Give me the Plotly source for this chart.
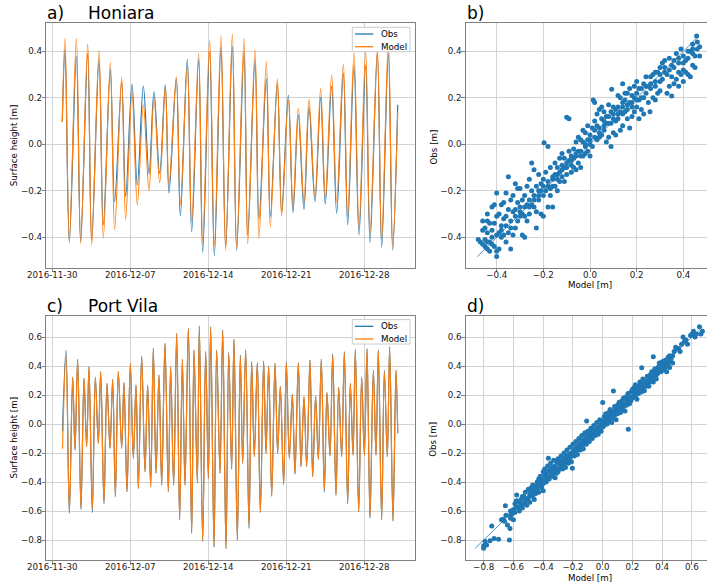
import pandas as pd
import plotly.graph_objects as go

# ---------------- tide series: turning points, hours after 2016-11-30 00:00 (m) ----------------
T0 = pd.Timestamp("2016-11-30 00:00")

honiara_hours = [21.5, 27.4, 36.7, 51.8, 61.1, 76.2, 84.8, 100.6, 109.9, 125.0, 134.3, 149.4,
                 158.0, 171.7, 183.1, 196.1, 208.3, 219.0, 231.3, 243.4, 251.3, 267.1, 275.8,
                 290.8, 300.2, 315.2, 323.9, 338.9, 349.0, 363.3, 373.4, 387.8, 397.1, 412.9,
                 420.8, 436.6, 445.2, 461.0, 469.6, 484.7, 494.0, 508.4, 518.4, 529.9, 542.1,
                 552.9, 565.8, 578.0, 588.0, 601.7, 612.5, 626.8, 636.2, 649.8, 660.6, 674.9,
                 684.3, 700.1, 709.4, 723.8, 733.1, 744.0]
honiara_obs = [0.10, 0.406, -0.42, 0.377, -0.42, 0.39, -0.41, 0.363, -0.347, 0.32, -0.247, 0.265,
               -0.225, 0.259, -0.175, 0.25, -0.128, 0.227, -0.125, 0.256, -0.21, 0.28, -0.308,
               0.365, -0.376, 0.363, -0.465, 0.399, -0.48, 0.418, -0.44, 0.42, -0.455, 0.399,
               -0.39, 0.36, -0.323, 0.28, -0.31, 0.26, -0.29, 0.212, -0.294, 0.126, -0.28,
               0.159, -0.247, 0.202, -0.257, 0.25, -0.297, 0.305, -0.347, 0.341, -0.39, 0.341,
               -0.423, 0.391, -0.443, 0.39, -0.455, 0.17]
honiara_model = [0.095, 0.456, -0.415, 0.456, -0.426, 0.431, -0.433, 0.403, -0.404, 0.353, -0.368, 0.288,
                 -0.323, 0.222, -0.261, 0.17, -0.199, 0.199, -0.165, 0.248, -0.175, 0.29, -0.261,
                 0.337, -0.333, 0.389, -0.419, 0.446, -0.44, 0.466, -0.455, 0.474, -0.445, 0.456,
                 -0.428, 0.406, -0.404, 0.356, -0.354, 0.28, -0.308, 0.19, -0.268, 0.155, -0.25,
                 0.193, -0.225, 0.24, -0.232, 0.298, -0.247, 0.344, -0.311, 0.392, -0.354, 0.399,
                 -0.383, 0.406, -0.412, 0.442, -0.44, 0.14]

portvila_hours = [22.0, 29.5, 36.7, 43.9, 48.9, 54.6, 61.8, 68.3, 74.0, 79.0, 86.2, 92.7, 99.1,
                  104.2, 111.3, 117.8, 124.3, 130.0, 135.8, 142.2, 149.4, 154.4, 160.9, 168.1,
                  174.5, 180.3, 185.3, 192.5, 199.6, 205.4, 211.9, 217.6, 223.4, 229.8, 235.6,
                  242.7, 249.9, 254.9, 261.4, 267.9, 274.3, 280.1, 285.8, 293.0, 300.2, 305.2,
                  312.4, 316.7, 323.9, 330.3, 336.1, 341.1, 348.3, 354.0, 361.2, 367.0, 374.1,
                  380.0, 386.3, 391.3, 398.5, 405.0, 410.0, 416.5, 423.7, 429.4, 435.1, 441.6,
                  448.1, 455.2, 460.3, 466.0, 472.5, 479.7, 485.4, 491.1, 498.3, 504.1, 510.5,
                  517.0, 522.7, 529.9, 535.7, 542.1, 547.9, 555.0, 560.8, 567.2, 573.0, 579.4,
                  585.9, 591.6, 598.1, 603.9, 611.0, 616.8, 623.3, 629.0, 636.2, 641.9, 647.7,
                  652.7, 659.9, 666.3, 672.1, 677.8, 684.3, 691.5, 697.2, 702.2, 709.4, 715.2,
                  721.6, 726.6, 733.8, 740.3, 744.0]
portvila_obs = [-0.05, 0.51, -0.615, 0.322, -0.179, 0.446, -0.59, 0.315, -0.156, 0.395, -0.61, 0.322,
                -0.133, 0.361, -0.55, 0.28, -0.168, 0.308, -0.501, 0.361, -0.168, 0.285, -0.467,
                0.418, -0.237, 0.269, -0.444, 0.469, -0.329, 0.269, -0.432, 0.522, -0.34, 0.338,
                -0.421, 0.556, -0.467, 0.395, -0.421, 0.625, -0.662, 0.446, -0.421, 0.66, -0.754,
                0.51, -0.405, 0.676, -0.81, 0.499, -0.375, 0.671, -0.85, 0.51, -0.34, 0.65, -0.86,
                0.495, -0.31, 0.584, -0.80, 0.475, -0.271, 0.51, -0.72, 0.43, -0.225, 0.423,
                -0.61, 0.435, -0.202, 0.40, -0.497, 0.418, -0.202, 0.258, -0.416, 0.43, -0.237,
                0.207, -0.345, 0.423, -0.294, 0.188, -0.294, 0.441, -0.363, 0.193, -0.244, 0.446,
                -0.47, 0.216, -0.22, 0.485, -0.49, 0.253, -0.225, 0.50, -0.55, 0.28, -0.214,
                0.515, -0.605, 0.322, -0.214, 0.52, -0.65, 0.37, -0.214, 0.51, -0.66, 0.37,
                -0.225, 0.533, -0.67, 0.37, -0.064]
portvila_model = [-0.17, 0.476, -0.605, 0.322, -0.179, 0.446, -0.582, 0.315, -0.156, 0.395, -0.589, 0.322,
                  -0.133, 0.361, -0.536, 0.28, -0.168, 0.308, -0.501, 0.361, -0.168, 0.285, -0.467,
                  0.418, -0.237, 0.269, -0.444, 0.469, -0.329, 0.269, -0.432, 0.522, -0.34, 0.338,
                  -0.421, 0.556, -0.467, 0.395, -0.421, 0.625, -0.662, 0.446, -0.421, 0.66, -0.754,
                  0.51, -0.405, 0.676, -0.805, 0.499, -0.375, 0.671, -0.841, 0.51, -0.34, 0.644, -0.857,
                  0.487, -0.31, 0.584, -0.789, 0.469, -0.271, 0.51, -0.703, 0.43, -0.225, 0.423,
                  -0.605, 0.427, -0.202, 0.40, -0.497, 0.418, -0.202, 0.258, -0.416, 0.423, -0.237,
                  0.207, -0.345, 0.423, -0.294, 0.188, -0.294, 0.441, -0.363, 0.193, -0.244, 0.446,
                  -0.455, 0.216, -0.22, 0.476, -0.49, 0.253, -0.225, 0.492, -0.543, 0.28, -0.214,
                  0.51, -0.605, 0.322, -0.214, 0.515, -0.639, 0.37, -0.214, 0.506, -0.651, 0.361,
                  -0.225, 0.533, -0.662, 0.37, -0.064]

# ---------------- Honiara: hourly model vs. observed pairs ----------------
honiara_sc_model = [
    -0.479, -0.47, -0.46, -0.46, -0.46, -0.45, -0.45, -0.45, -0.44, -0.44, -0.44, -0.44, -0.43, -0.43, -0.43,
    -0.42, -0.42, -0.42, -0.41, -0.41, -0.41, -0.40, -0.40, -0.40, -0.40, -0.40,
    -0.39, -0.39, -0.39, -0.38, -0.38, -0.38, -0.37, -0.37, -0.37, -0.36, -0.36, -0.36, -0.35, -0.35, -0.35,
    -0.34, -0.34, -0.34, -0.33, -0.33, -0.33, -0.32, -0.32, -0.32, -0.31, -0.31, -0.31, -0.30, -0.30, -0.30,
    -0.29, -0.29, -0.29, -0.28, -0.28, -0.28, -0.27, -0.27, -0.27, -0.26, -0.26, -0.26, -0.25, -0.25, -0.25,
    -0.24, -0.24, -0.24, -0.23, -0.23, -0.23, -0.22, -0.22, -0.22, -0.21, -0.21, -0.21, -0.20, -0.20, -0.20,
    -0.197, -0.18, -0.19, -0.19, -0.18, -0.18, -0.17, -0.17, -0.17, -0.16, -0.16, -0.16, -0.15, -0.15, -0.15,
    -0.14, -0.14, -0.14, -0.13, -0.13, -0.13, -0.12, -0.12, -0.12, -0.11, -0.11, -0.11, -0.10, -0.10, -0.09, -0.10,
    -0.09, -0.09, -0.08, -0.08, -0.08, -0.07, -0.07, -0.07, -0.06, -0.06, -0.06, -0.05, -0.05, -0.05,
    -0.04, -0.04, -0.04, -0.03, -0.03, -0.03, -0.02, -0.02, -0.02, -0.01, -0.01, -0.01, 0.0, 0.0, 0.0,
    0.01, 0.01, 0.014, 0.02, 0.02, 0.02, 0.03, 0.03, 0.03, 0.04, 0.04, 0.04, 0.05, 0.05, 0.05,
    0.06, 0.06, 0.06, 0.07, 0.07, 0.07, 0.08, 0.08, 0.08, 0.09, 0.09, 0.09, 0.093, 0.10, 0.10, 0.10,
    0.11, 0.11, 0.11, 0.12, 0.12, 0.12, 0.13, 0.13, 0.13, 0.14, 0.14, 0.14, 0.14, 0.15, 0.15, 0.15,
    0.16, 0.16, 0.16, 0.17, 0.17, 0.17, 0.18, 0.18, 0.18, 0.19, 0.19, 0.19, 0.20, 0.20, 0.20,
    0.21, 0.21, 0.21, 0.22, 0.22, 0.23, 0.23, 0.23, 0.24, 0.24, 0.25, 0.25, 0.26,
    0.26, 0.257, 0.27, 0.27, 0.28, 0.28, 0.28, 0.29, 0.29, 0.30, 0.30, 0.30,
    0.31, 0.31, 0.32, 0.32, 0.33, 0.33, 0.34, 0.34, 0.35, 0.35, 0.35, 0.36,
    0.36, 0.37, 0.37, 0.38, 0.38, 0.38, 0.39, 0.39, 0.40, 0.40, 0.40,
    0.41, 0.41, 0.42, 0.42, 0.43, 0.43, 0.44, 0.44, 0.44, 0.45, 0.45, 0.457, 0.46, 0.47, 0.47,
    -0.44, -0.42, -0.38, -0.36, -0.34, -0.32, -0.30, -0.28, -0.26, -0.24, -0.22, -0.20, -0.18, -0.16, -0.14,
    -0.12, -0.10, -0.08, -0.06, -0.04, -0.02, 0.0, 0.02, 0.04, 0.06, 0.08, 0.10, 0.12, 0.14, 0.16,
    0.18, 0.20, 0.22, 0.24, 0.26, 0.28, 0.30, 0.32, 0.34, 0.36, 0.38, 0.40, 0.42, 0.44, 0.46]
honiara_sc_obs = [
    -0.409, -0.42, -0.43, -0.33, -0.37, -0.44, -0.36, -0.41, -0.45, -0.38, -0.30, -0.33, -0.46, -0.34, -0.42,
    -0.40, -0.37, -0.27, -0.44, -0.34, -0.26, -0.483, -0.46, -0.39, -0.21, -0.31,
    -0.38, -0.30, -0.45, -0.40, -0.26, -0.35, -0.39, -0.25, -0.32, -0.31, -0.21, -0.42, -0.38, -0.28, -0.14,
    -0.45, -0.24, -0.33, -0.22, -0.39, -0.29, -0.28, -0.17, -0.36, -0.33, -0.25, -0.19, -0.31, -0.19, -0.27,
    -0.39, -0.24, -0.30, -0.40, -0.22, -0.31, -0.18, -0.33, -0.26, -0.15, -0.30, -0.24, -0.26, -0.08, -0.20,
    -0.27, -0.11, -0.22, -0.29, -0.36, -0.18, -0.24, -0.13, -0.20, -0.20, -0.17, -0.30, -0.31, -0.22, -0.15,
    0.007, -0.01, -0.12, -0.20, -0.16, -0.27, -0.19, -0.22, -0.10, -0.14, -0.27, -0.18, -0.18, -0.08, -0.13,
    -0.10, -0.20, -0.15, -0.12, -0.06, -0.16, -0.14, -0.04, -0.09, -0.16, -0.10, -0.06, -0.08, 0.116, 0.11, -0.13,
    -0.07, -0.03, -0.09, -0.12, -0.05, -0.02, -0.06, -0.10, -0.05, -0.11, 0.01, -0.08, 0.03, -0.03,
    -0.03, -0.10, 0.02, 0.01, -0.05, 0.06, -0.04, 0.05, 0.0, 0.02, -0.03, 0.08, 0.0, 0.04, -0.05,
    0.07, -0.01, 0.19, 0.18, 0.03, 0.10, 0.08, 0.13, 0.02, 0.03, 0.15, 0.07, 0.11, 0.04, 0.16,
    0.06, 0.14, 0.10, 0.01, 0.09, 0.12, 0.12, 0.03, 0.17, 0.09, -0.01, 0.14, 0.237, 0.05, 0.16, 0.11,
    0.10, 0.04, 0.15, 0.16, 0.21, 0.11, 0.20, 0.06, 0.14, 0.08, 0.26, 0.13, 0.18, 0.14, 0.19, 0.22,
    0.22, 0.11, 0.17, 0.18, 0.07, 0.24, 0.12, 0.21, 0.16, 0.25, 0.14, 0.20, 0.16, 0.27, 0.22,
    0.19, 0.11, 0.24, 0.15, 0.24, 0.26, 0.13, 0.20, 0.22, 0.29, 0.18, 0.25, 0.29,
    0.24, 0.14, 0.20, 0.30, 0.25, 0.19, 0.31, 0.31, 0.22, 0.23, 0.33, 0.27,
    0.28, 0.35, 0.36, 0.31, 0.30, 0.22, 0.25, 0.37, 0.208, 0.34, 0.29, 0.33,
    0.26, 0.28, 0.39, 0.35, 0.25, 0.31, 0.30, 0.41, 0.38, 0.32, 0.27,
    0.36, 0.31, 0.30, 0.37, 0.40, 0.29, 0.34, 0.39, 0.43, 0.38, 0.33, 0.466, 0.41, 0.42, 0.38,
    -0.42, -0.43, -0.37, -0.35, -0.36, -0.31, -0.29, -0.27, -0.27, -0.24, -0.22, -0.18, -0.18, -0.15, -0.13,
    -0.11, -0.10, -0.07, -0.04, -0.05, -0.01, 0.02, 0.06, 0.05, 0.08, 0.09, 0.13, 0.13, 0.16, 0.15,
    0.18, 0.19, 0.20, 0.25, 0.26, 0.27, 0.30, 0.33, 0.32, 0.36, 0.37, 0.35, 0.40, 0.41, 0.44]

# ---------------- Port Vila: hourly model vs. observed pairs ----------------
portvila_sc_model = [
    -0.80, -0.80, -0.79, -0.78, -0.757, -0.746, -0.73, -0.70, -0.68, -0.668,
    -0.654, -0.65, -0.64, -0.627, -0.623, -0.62, -0.62, -0.61, -0.60, -0.60,
    -0.59, -0.59, -0.578, -0.58, -0.57, -0.56, -0.56, -0.55, -0.55, -0.54, -0.54, -0.53, -0.52,
    -0.52, -0.51, -0.50, -0.50, -0.49, -0.49, -0.48, -0.48, -0.47, -0.47, -0.46, -0.46, -0.45,
    -0.45, -0.44, -0.44, -0.43, -0.43, -0.42, -0.42, -0.41, -0.41, -0.40, -0.40, -0.40,
    -0.39, -0.39, -0.38, -0.38, -0.37, -0.37, -0.365, -0.36, -0.36, -0.35, -0.35, -0.34, -0.34, -0.33,
    -0.33, -0.32, -0.32, -0.31, -0.31, -0.30, -0.30, -0.29, -0.29, -0.28, -0.28, -0.27, -0.27, -0.26,
    -0.26, -0.25, -0.25, -0.24, -0.24, -0.23, -0.23, -0.22, -0.22, -0.21, -0.21, -0.204, -0.20, -0.20,
    -0.19, -0.19, -0.18, -0.18, -0.17, -0.17, -0.16, -0.16, -0.15, -0.15, -0.14, -0.14, -0.13, -0.13,
    -0.12, -0.12, -0.11, -0.11, -0.108, -0.10, -0.10, -0.09, -0.09, -0.08, -0.08, -0.07, -0.07, -0.06,
    -0.06, -0.05, -0.05, -0.04, -0.04, -0.03, -0.03, -0.02, -0.02, -0.01, -0.01, 0.0, 0.0, 0.0,
    0.01, 0.01, 0.02, 0.02, 0.03, 0.03, 0.04, 0.04, 0.05, 0.05, 0.06, 0.06, 0.07, 0.072,
    0.07, 0.08, 0.08, 0.09, 0.09, 0.10, 0.10, 0.11, 0.11, 0.12, 0.12, 0.13, 0.13, 0.14,
    0.14, 0.15, 0.15, 0.16, 0.16, 0.17, 0.172, 0.17, 0.18, 0.18, 0.19, 0.19, 0.20, 0.20,
    0.21, 0.21, 0.22, 0.22, 0.23, 0.23, 0.24, 0.24, 0.25, 0.25, 0.26, 0.262, 0.26, 0.27,
    0.27, 0.28, 0.28, 0.29, 0.29, 0.30, 0.30, 0.31, 0.31, 0.32, 0.32, 0.33, 0.33, 0.34,
    0.34, 0.34, 0.35, 0.35, 0.36, 0.36, 0.37, 0.37, 0.38, 0.38, 0.39, 0.39, 0.40, 0.40,
    0.41, 0.41, 0.42, 0.42, 0.43, 0.43, 0.44, 0.44, 0.45, 0.45, 0.46, 0.47, 0.47,
    0.49, 0.50, 0.52, 0.54, 0.55, 0.57, 0.59, 0.61, 0.62, 0.65, 0.66, 0.67,
    -0.58, -0.56, -0.53, -0.51, -0.49, -0.47, -0.45, -0.43, -0.41, -0.39, -0.37, -0.35, -0.33, -0.31, -0.29,
    -0.27, -0.25, -0.23, -0.21, -0.19, -0.17, -0.15, -0.13, -0.11, -0.09, -0.07, -0.05, -0.03, -0.01, 0.01,
    0.03, 0.05, 0.07, 0.09, 0.11, 0.13, 0.15, 0.17, 0.19, 0.21, 0.23, 0.25, 0.27, 0.29, 0.31,
    0.33, 0.35, 0.37, 0.39, 0.41, 0.43, 0.45, 0.48, 0.51, 0.53, 0.56, 0.60, 0.63, -0.66, -0.62]
portvila_sc_obs = [
    -0.857, -0.84, -0.81, -0.834, -0.805, -0.703, -0.79, -0.795, -0.66, -0.657,
    -0.563, -0.63, -0.697, -0.80, -0.72, -0.65, -0.60, -0.62, -0.59, -0.66,
    -0.55, -0.61, -0.49, -0.57, -0.58, -0.60, -0.54, -0.52, -0.56, -0.50, -0.58, -0.55, -0.47,
    -0.53, -0.56, -0.45, -0.51, -0.49, -0.54, -0.44, -0.47, -0.50, -0.42, -0.46, -0.52, -0.43,
    -0.48, -0.40, -0.45, -0.47, -0.38, -0.42, -0.36, -0.44, -0.39, -0.33, -0.41, -0.46,
    -0.37, -0.31, -0.40, -0.34, -0.29, -0.36, -0.237, -0.38, -0.32, -0.33, -0.27, -0.36, -0.30, -0.25,
    -0.34, -0.29, -0.37, -0.26, -0.31, -0.33, -0.24, -0.28, -0.31, -0.22, -0.30, -0.25, -0.29, -0.20,
    -0.27, -0.23, -0.30, -0.18, -0.25, -0.21, -0.27, -0.16, -0.23, -0.20, -0.26, -0.306, -0.14, -0.19,
    -0.17, -0.22, -0.12, -0.19, -0.15, -0.21, -0.10, -0.16, -0.13, -0.18, -0.08, -0.14, -0.11, -0.17,
    -0.06, -0.12, -0.09, -0.14, 0.02, -0.05, -0.10, -0.07, -0.12, -0.03, -0.08, -0.05, -0.10, -0.01,
    -0.06, -0.04, -0.08, 0.01, -0.05, -0.02, -0.07, 0.03, -0.03, 0.0, -0.05, 0.149, 0.02, -0.02,
    0.05, -0.01, 0.03, 0.07, 0.0, 0.05, 0.08, 0.02, 0.04, 0.10, 0.07, 0.01, 0.09, 0.228,
    0.04, 0.12, 0.06, 0.09, 0.03, 0.13, 0.07, 0.10, 0.15, 0.08, 0.13, 0.16, 0.10, 0.12,
    0.18, 0.14, 0.09, 0.19, 0.13, 0.16, -0.037, 0.21, 0.14, 0.19, 0.22, 0.16, 0.18, 0.24,
    0.20, 0.25, 0.19, 0.27, 0.22, 0.17, 0.26, 0.21, 0.29, 0.24, 0.22, 0.388, 0.28, 0.25,
    0.31, 0.27, 0.23, 0.30, 0.26, 0.33, 0.28, 0.30, 0.26, 0.34, 0.29, 0.31, 0.36, 0.33,
    0.464, 0.29, 0.35, 0.38, 0.34, 0.31, 0.39, 0.35, 0.37, 0.42, 0.36, 0.40, 0.38, 0.43,
    0.41, 0.37, 0.44, 0.39, 0.42, 0.36, 0.40, 0.46, 0.43, 0.39, 0.45, 0.42, 0.47,
    0.53, 0.52, 0.50, 0.60, 0.57, 0.55, 0.61, 0.64, 0.60, 0.67, 0.62, 0.64,
    -0.53, -0.57, -0.50, -0.52, -0.46, -0.48, -0.46, -0.42, -0.41, -0.35, -0.38, -0.36, -0.31, -0.34, -0.26,
    -0.31, -0.27, -0.24, -0.22, -0.19, -0.18, -0.15, -0.14, -0.11, -0.09, -0.08, -0.06, -0.04, -0.02, 0.02,
    0.03, 0.07, 0.06, 0.11, 0.12, 0.13, 0.17, 0.18, 0.18, 0.22, 0.25, 0.26, 0.28, 0.28, 0.33,
    0.34, 0.32, 0.37, 0.38, 0.43, 0.44, 0.47, 0.50, 0.52, 0.55, 0.58, 0.62, 0.62, -0.67, -0.63]

assert len(honiara_hours) == len(honiara_obs) == len(honiara_model)
assert len(portvila_hours) == len(portvila_obs) == len(portvila_model)
assert len(honiara_sc_model) == len(honiara_sc_obs)
assert len(portvila_sc_model) == len(portvila_sc_obs)

date_ticks = ["2016-11-30", "2016-12-07", "2016-12-14", "2016-12-21", "2016-12-28"]
ts_ticks_a = [-0.4, -0.2, 0.0, 0.2, 0.4]
ts_ticks_c = [-0.8, -0.6, -0.4, -0.2, 0.0, 0.2, 0.4, 0.6]

# ---------------- styling ----------------
W, H = 707, 585
BLUE, ORANGE = "#1f77b4", "#ff7f0e"
SPINE, GRID, TXT = "#808080", "#d3d3d3", "#1a1a1a"
FONT = "DejaVu Sans"
FS = 8.7


def px(x):
    return x / W


def py(y):
    return 1 - y / H


# axes boxes in pixels: (left, right, top, bottom)
BOX = {
    "a": (46.3, 414.5, 23.3, 267.7),
    "b": (465.7, 707.0, 23.3, 267.7),
    "c": (46.3, 414.5, 315.6, 560.0),
    "d": (465.7, 707.0, 315.6, 560.0),
}


def dom(key):
    l, r, t, b = BOX[key]
    return [px(l), min(px(r), 1.0)], [py(b), py(t)]


def to_time(hours):
    return T0 + pd.to_timedelta(hours, unit="h")


fig = go.Figure()

# time series a) and c)
for hrs, obs, mod, ax in [(honiara_hours, honiara_obs, honiara_model, ("x", "y")),
                          (portvila_hours, portvila_obs, portvila_model, ("x3", "y3"))]:
    t = to_time(hrs)
    fig.add_trace(go.Scatter(x=t, y=obs, mode="lines", name="Obs",
                             line=dict(color=BLUE, width=1.15, shape="spline", smoothing=1.0),
                             xaxis=ax[0], yaxis=ax[1]))
    fig.add_trace(go.Scatter(x=t, y=mod, mode="lines", name="Model",
                             line=dict(color=ORANGE, width=1.15, shape="spline", smoothing=1.0),
                             xaxis=ax[0], yaxis=ax[1]))

# scatter b) and d) with the 1:1 line over the observed range
for mx, oy, ax in [(honiara_sc_model, honiara_sc_obs, ("x2", "y2")),
                   (portvila_sc_model, portvila_sc_obs, ("x4", "y4"))]:
    fig.add_trace(go.Scatter(x=mx, y=oy, mode="markers",
                             marker=dict(color=BLUE, size=5, line=dict(width=0)),
                             xaxis=ax[0], yaxis=ax[1]))
    lo, hi = min(oy), max(oy)
    fig.add_trace(go.Scatter(x=[lo, hi], y=[lo, hi], mode="lines",
                             line=dict(color=BLUE, width=0.8), xaxis=ax[0], yaxis=ax[1]))

base = dict(showline=True, linecolor=SPINE, linewidth=1, ticks="outside", ticklen=3.5,
            tickwidth=1, tickcolor=SPINE, showgrid=True, gridcolor=GRID, gridwidth=1,
            zeroline=False, automargin=False,
            tickfont=dict(family=FONT, size=FS, color=TXT))
xbase = dict(base, ticklabelstandoff=-5)
ybase = dict(base, ticklabelstandoff=-2)

date_axis = dict(xbase, type="date", range=["2016-11-29 11:05", "2017-01-01 12:07"],
                 tickvals=date_ticks, ticktext=date_ticks, mirror=True)

xa, ya = dom("a")
xb, yb = dom("b")
xc, yc = dom("c")
xd, yd = dom("d")

fig.update_layout(
    width=W, height=H, margin=dict(l=0, r=0, t=0, b=0, pad=0, autoexpand=False),
    paper_bgcolor="white", plot_bgcolor="white", showlegend=False,
    font=dict(family=FONT, size=FS, color=TXT),
    xaxis=dict(date_axis, domain=xa, anchor="y"),
    yaxis=dict(ybase, domain=ya, anchor="x", range=[-0.5308, 0.5204], tickvals=ts_ticks_a,
               tickformat=".1f", mirror=True),
    xaxis2=dict(xbase, domain=xb, anchor="y2", range=[-0.5328, 0.5015], tickvals=ts_ticks_a,
                tickformat=".1f", mirror=True),
    yaxis2=dict(ybase, domain=yb, anchor="x2", range=[-0.5308, 0.5204], tickvals=ts_ticks_a,
                tickformat=".1f"),
    xaxis3=dict(date_axis, domain=xc, anchor="y3"),
    yaxis3=dict(ybase, domain=yc, anchor="x3", range=[-0.9379, 0.7476], tickvals=ts_ticks_c,
                tickformat=".1f", mirror=True),
    xaxis4=dict(xbase, domain=xd, anchor="y4", range=[-0.9207, 0.7009], tickvals=ts_ticks_c,
                tickformat=".1f", mirror=True),
    yaxis4=dict(ybase, domain=yd, anchor="x4", range=[-0.9379, 0.7476], tickvals=ts_ticks_c,
                tickformat=".1f"),
)

ann = []
shapes = []


def label(x, y, text, size=FS, xanchor="center", angle=0):
    ann.append(dict(x=px(x), y=py(y), xref="paper", yref="paper", text=text, showarrow=False,
                    xanchor=xanchor, yanchor="middle", textangle=angle,
                    font=dict(family=FONT, size=size, color="black")))


# panel letters and station names
for key, letter, station in [("a", "a)", "Honiara"), ("b", "b)", None),
                             ("c", "c)", "Port Vila"), ("d", "d)", None)]:
    l, r, t, b = BOX[key]
    label(l - 1, t - 9.9, letter, size=17, xanchor="left")
    if station:
        label(l + 40, t - 9.9, station, size=17, xanchor="left")

# axis titles
for key in ["a", "c"]:
    l, r, t, b = BOX[key]
    label(13.7, (t + b) / 2, "Surface height [m]", angle=-90)
for key in ["b", "d"]:
    l, r, t, b = BOX[key]
    label(433.5, (t + b) / 2 + 1.5, "Obs [m]", angle=-90)
    label(589.5, b + 17.5, "Model [m]")

# legends in the upper-right corner of the time-series panels
for key in ["a", "c"]:
    l, r, t, b = BOX[key]
    shapes.append(dict(type="rect", xref="paper", yref="paper",
                       x0=px(352.3), x1=px(410.0), y0=py(t + 28.4), y1=py(t + 4.0),
                       line=dict(color="#cccccc", width=1), fillcolor="rgba(255,255,255,0.85)",
                       layer="above"))
    for i, (name, col) in enumerate([("Obs", BLUE), ("Model", ORANGE)]):
        yy = t + 10.7 + i * 12.7
        shapes.append(dict(type="line", xref="paper", yref="paper",
                           x0=px(355.0), x1=px(373.3), y0=py(yy), y1=py(yy),
                           line=dict(color=col, width=1.3), layer="above"))
        label(378.5, yy, name, xanchor="left")

fig.update_layout(annotations=ann, shapes=shapes)

fig.write_html("out.html")
